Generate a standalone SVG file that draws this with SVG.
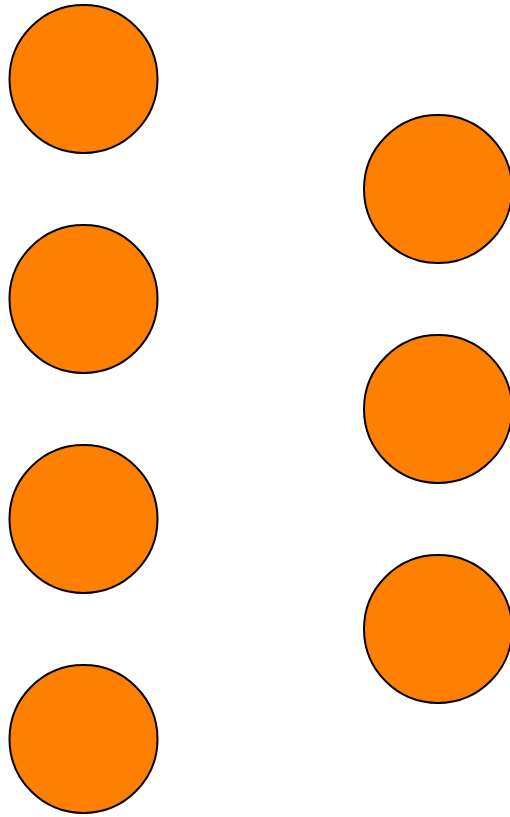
<svg xmlns="http://www.w3.org/2000/svg" width="510" height="817" viewBox="0 0 510 817">
<style>
.node circle { fill: #ff8000; stroke: #000000; stroke-width: 2; }
</style>
<rect width="510" height="817" fill="#ffffff"/>
<g id="connectors"></g>
<g id="n1" class="node"><circle cx="83.5" cy="79" r="74"/></g>
<g id="n2" class="node"><circle cx="83.5" cy="299" r="74"/></g>
<g id="n3" class="node"><circle cx="83.5" cy="519" r="74"/></g>
<g id="n4" class="node"><circle cx="83.5" cy="739" r="74"/></g>
<g id="n5" class="node"><circle cx="438" cy="189" r="74"/></g>
<g id="n6" class="node"><circle cx="438" cy="409" r="74"/></g>
<g id="n7" class="node"><circle cx="438" cy="629" r="74"/></g>
</svg>
